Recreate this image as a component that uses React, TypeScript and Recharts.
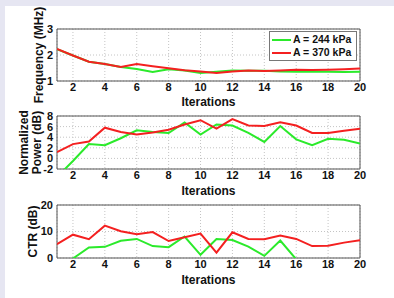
import { CartesianGrid, Legend, Line, LineChart, ReferenceArea, XAxis, YAxis } from 'recharts';

const ITERATIONS = [1, 2, 3, 4, 5, 6, 7, 8, 9, 10, 11, 12, 13, 14, 15, 16, 17, 18, 19, 20];
const X_TICKS = [2, 4, 6, 8, 10, 12, 14, 16, 18, 20];

const FREQ_244 = [2.22, 1.98, 1.74, 1.65, 1.54, 1.46, 1.35, 1.45, 1.4, 1.31, 1.36, 1.4, 1.39, 1.39, 1.37, 1.36, 1.36, 1.36, 1.35, 1.36];
const FREQ_370 = [2.23, 1.98, 1.74, 1.65, 1.54, 1.65, 1.57, 1.49, 1.41, 1.37, 1.31, 1.37, 1.4, 1.38, 1.4, 1.43, 1.42, 1.43, 1.45, 1.48];
const POWER_244 = [-3.5, -0.5, 2.7, 2.5, 3.8, 5.3, 5.0, 4.8, 6.8, 4.5, 6.4, 6.2, 4.8, 3.1, 6.1, 3.6, 2.5, 3.7, 3.5, 2.8];
const POWER_370 = [1.2, 2.7, 3.2, 5.8, 5.0, 4.5, 4.9, 5.4, 6.4, 7.2, 5.6, 7.4, 6.2, 6.1, 6.8, 6.2, 4.8, 4.8, 5.2, 5.6];
const CTR_244 = [-3, -0.2, 4.0, 4.2, 6.5, 7.2, 4.5, 4.1, 8.1, 1.2, 7.2, 6.8, 4.3, 0.8, 6.6, -0.5, -3, -2, -2.5, -3];
const CTR_370 = [5.2, 8.8, 7.1, 12.2, 10.1, 9.0, 9.8, 6.4, 7.8, 9.2, 2.0, 9.7, 7.2, 7.1, 8.5, 7.2, 4.5, 4.6, 5.8, 6.7];

const SERIES_NAMES = ['A = 244 kPa', 'A = 370 kPa'];
const GREEN = '#2bea2b';
const RED = '#f42020';
const FONT = '"Liberation Sans", Arial, sans-serif';
const TICK = { fill: '#111', fontSize: 11, fontWeight: 700, fontFamily: FONT };

const rows = (a: number[], b: number[]) => ITERATIONS.map((it, i) => ({ it, a: a[i], b: b[i] }));

function YLabel({ lines, cx, cy }: { lines: string[]; cx: number[]; cy: number }) {
  return (
    <g>
      {lines.map((l, i) => (
        <text
          key={l}
          x={cx[i]}
          y={cy}
          transform={`rotate(-90, ${cx[i]}, ${cy})`}
          textAnchor="middle"
          dominantBaseline="central"
          fontSize={12}
          fontWeight={700}
          fontFamily={FONT}
          fill="#111"
        >
          {l}
        </text>
      ))}
    </g>
  );
}

function LegendBox() {
  return (
    <div
      style={{
        border: '1px solid #777',
        background: '#fff',
        padding: '1px 2px',
        fontFamily: FONT,
        fontSize: 10.5,
        fontWeight: 700,
        color: '#111',
        lineHeight: '13px',
        whiteSpace: 'nowrap',
        boxSizing: 'border-box',
        width: 88,
      }}
    >
      {SERIES_NAMES.map((n, i) => (
        <div key={n} style={{ display: 'flex', alignItems: 'center' }}>
          <span style={{ display: 'inline-block', width: 19, height: 2, background: i === 0 ? GREEN : RED, marginRight: 2 }} />
          {n}
        </div>
      ))}
    </div>
  );
}

function Panel({
  data,
  top,
  height,
  marginTop,
  axisHeight,
  labelOffset,
  domain,
  yTicks,
  label,
  withLegend,
}: {
  data: { it: number; a: number; b: number }[];
  top: number;
  height: number;
  marginTop: number;
  axisHeight: number;
  labelOffset: number;
  domain: [number, number];
  yTicks: number[];
  label: { lines: string[]; cx: number[] };
  withLegend?: boolean;
}) {
  const plotTop = marginTop;
  const plotBottom = height - axisHeight;
  return (
    <div style={{ position: 'absolute', left: 0, top }}>
      <LineChart width={394} height={height} data={data} margin={{ top: marginTop, right: 34, bottom: 0, left: 0 }}>
        <CartesianGrid stroke="#c4c4c4" strokeDasharray="1 2" />
        <XAxis
          dataKey="it"
          type="number"
          domain={[1, 20]}
          ticks={X_TICKS}
          allowDataOverflow
          height={axisHeight}
          tick={TICK}
          tickLine={false}
          tickSize={0}
          tickMargin={2}
          axisLine={false}
          label={{ value: 'Iterations', position: 'insideBottom', offset: labelOffset, fontSize: 12, fontWeight: 700, fontFamily: FONT, fill: '#111' }}
        />
        <YAxis
          type="number"
          domain={domain}
          ticks={yTicks}
          allowDataOverflow
          width={57}
          tick={TICK}
          tickLine={false}
          tickSize={0}
          tickMargin={4}
          axisLine={false}
          interval={0}
        />
        <ReferenceArea x1={1} x2={20} y1={domain[0]} y2={domain[1]} fill="none" stroke="#555" strokeWidth={1} fillOpacity={0} />
        <Line type="linear" dataKey="a" name={SERIES_NAMES[0]} stroke={GREEN} strokeWidth={2} dot={false} isAnimationActive={false} />
        <Line type="linear" dataKey="b" name={SERIES_NAMES[1]} stroke={RED} strokeWidth={2} dot={false} isAnimationActive={false} />
        {withLegend && (
          <Legend
            layout="vertical"
            align="center"
            verticalAlign="middle"
            content={() => <LegendBox />}
            wrapperStyle={{ left: 269, top: 31, width: 88 }}
          />
        )}
      </LineChart>
      <svg width={60} height={height} style={{ position: 'absolute', left: 0, top: 0, pointerEvents: 'none' }}>
        <YLabel lines={label.lines} cx={label.cx} cy={(plotTop + plotBottom) / 2} />
      </svg>
    </div>
  );
}

export default function App() {
  return (
    <div style={{ position: 'fixed', left: 0, top: 0, width: 394, height: 298, background: '#e6e6f2', overflow: 'hidden' }}>
      <div style={{ position: 'absolute', left: 5, top: 6, width: 389, height: 292, background: '#fff' }} />
      <Panel
        data={rows(FREQ_244, FREQ_370)}
        top={0}
        height={110}
        marginTop={29}
        axisHeight={29}
        labelOffset={4}
        domain={[1, 3]}
        yTicks={[1, 2, 3]}
        label={{ lines: ['Frequency (MHz)'], cx: [39] }}
        withLegend
      />
      <Panel
        data={rows(POWER_244, POWER_370)}
        top={100}
        height={100}
        marginTop={16}
        axisHeight={31}
        labelOffset={5}
        domain={[-2, 8]}
        yTicks={[-2, 0, 2, 4, 6, 8]}
        label={{ lines: ['Normalized', 'Power (dB)'], cx: [24, 37] }}
      />
      <Panel
        data={rows(CTR_244, CTR_370)}
        top={190}
        height={108}
        marginTop={15}
        axisHeight={40}
        labelOffset={14}
        domain={[0, 20]}
        yTicks={[0, 10, 20]}
        label={{ lines: ['CTR (dB)'], cx: [33] }}
      />
    </div>
  );
}
